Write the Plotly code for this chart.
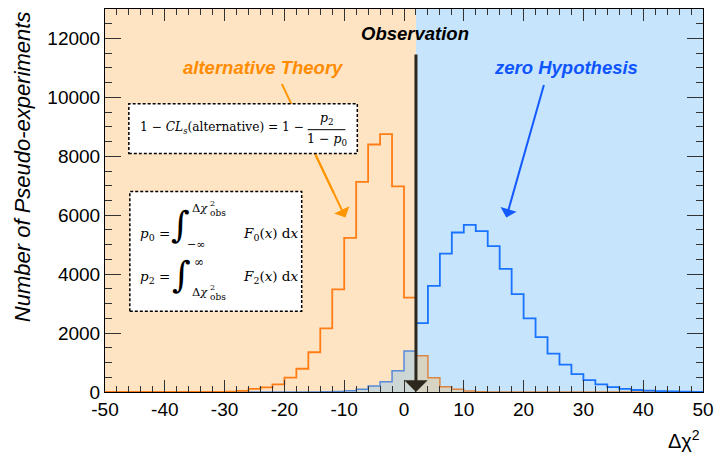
import plotly.graph_objects as go

# ---------------- data ----------------
bin_edges = list(range(-50, 52, 2))          # 50 bins of width 2
orange_counts = [0, 0, 0, 0, 0, 0, 0, 0, 0, 0,
                 10, 40, 105, 160, 260, 486, 790, 1350, 2160, 3480,
                 5230, 7130, 8400, 8750, 6980, 3200, 1232, 486, 180, 90,
                 30, 12, 4,
                 0, 0, 0, 0, 0, 0, 0, 0, 0, 0, 0, 0, 0, 0, 0, 0, 0]
blue_counts = [0, 0, 0, 0, 0, 0, 0, 0, 0, 0, 0, 0, 0, 0, 0, 0, 0, 0,
               8, 20, 45, 90, 203, 350, 723, 1390, 2335, 3600,
               4700, 5413, 5672, 5458, 4950, 4181, 3322, 2497, 1860, 1305,
               926, 605, 400, 260, 165, 105, 68, 45, 28, 18, 10, 6]
observation = 2.0

x_ticks = [-50, -40, -30, -20, -10, 0, 10, 20, 30, 40, 50]
x_tick_labels = ["-50", "-40", "-30", "-20", "-10", "0", "10", "20", "30", "40", "50"]
y_ticks = [0, 2000, 4000, 6000, 8000, 10000, 12000]
y_tick_labels = ["0", "2000", "4000", "6000", "8000", "10000", "12000"]

# ---------------- helpers ----------------
W, H = 722, 458
PL, PR, PT, PB = 105, 707, 8, 392   # plot area in pixels


def pp(xp, yp):
    """pixel -> paper coordinates"""
    return (xp - PL) / (PR - PL), (PB - yp) / (PB - PT)


def split(counts, left_side):
    lefts = bin_edges[:-1]
    if left_side:
        idx = [i for i, l in enumerate(lefts) if l < observation]
        xs = [lefts[i] for i in idx] + [observation]
    else:
        idx = [i for i, l in enumerate(lefts) if l >= observation]
        xs = [lefts[i] for i in idx] + [bin_edges[-1]]
    ys = [counts[i] for i in idx]
    ys = ys + [ys[-1]]
    return xs, ys


ORANGE_LINE = "rgb(255,125,20)"
BLUE_LINE = "rgb(25,115,255)"
ORANGE_TXT = "rgb(255,140,0)"
BLUE_TXT = "rgb(15,85,255)"
BG_OR = "rgb(255,228,196)"
BG_BL = "rgb(198,228,252)"

fig = go.Figure()

xb, yb = split(blue_counts, True)
fig.add_trace(go.Scatter(x=xb, y=yb, mode="lines", line=dict(shape="hv", color="rgba(40,110,220,0.75)", width=1.5),
                         fill="tozeroy", fillcolor="rgb(203,214,213)", hoverinfo="skip", showlegend=False))
xo, yo = split(orange_counts, False)
fig.add_trace(go.Scatter(x=xo, y=yo, mode="lines", line=dict(shape="hv", color="rgba(220,120,40,0.85)", width=1.5),
                         fill="tozeroy", fillcolor="rgb(215,212,196)", hoverinfo="skip", showlegend=False))
xo, yo = split(orange_counts, True)
fig.add_trace(go.Scatter(x=xo, y=yo, mode="lines", line=dict(shape="hv", color=ORANGE_LINE, width=1.8),
                         hoverinfo="skip", showlegend=False))
xb, yb = split(blue_counts, False)
fig.add_trace(go.Scatter(x=xb, y=yb, mode="lines", line=dict(shape="hv", color=BLUE_LINE, width=1.8),
                         hoverinfo="skip", showlegend=False))

shapes = []
# background regions
shapes.append(dict(type="rect", xref="x", yref="paper", x0=bin_edges[0], x1=observation, y0=0, y1=1,
                   fillcolor=BG_OR, line=dict(width=0), layer="below"))
shapes.append(dict(type="rect", xref="x", yref="paper", x0=observation, x1=bin_edges[-1], y0=0, y1=1,
                   fillcolor=BG_BL, line=dict(width=0), layer="below"))
# orange arrow shaft (partly hidden by the box)
a0 = pp(283, 83)
a1 = pp(335, 192)
shapes.append(dict(type="line", xref="paper", yref="paper", x0=a0[0], y0=a0[1], x1=a1[0], y1=a1[1],
                   line=dict(color="rgb(255,150,0)", width=2), layer="above"))
# formula boxes
b1a, b1b = pp(129, 103), pp(359, 153)
shapes.append(dict(type="rect", xref="paper", yref="paper", x0=b1a[0], y0=b1b[1], x1=b1b[0], y1=b1a[1],
                   fillcolor="white", line=dict(color="black", width=1.5, dash="3px,2px"), layer="above"))
b2a, b2b = pp(130, 191), pp(303, 311)
shapes.append(dict(type="rect", xref="paper", yref="paper", x0=b2a[0], y0=b2b[1], x1=b2b[0], y1=b2a[1],
                   fillcolor="white", line=dict(color="black", width=1.5, dash="3px,2px"), layer="above"))
f0, f1 = pp(309, 129), pp(347, 129)
shapes.append(dict(type="line", xref="paper", yref="paper", x0=f0[0], y0=f0[1], x1=f1[0], y1=f1[1],
                   line=dict(color="black", width=1), layer="above"))

ann = []
SANS = "Liberation Sans, Arial, Helvetica, sans-serif"
SERIF = "DejaVu Serif, Liberation Serif, serif"


def txt(text, xp, yp, size, color="black", family=SANS, xanchor="center", **kw):
    x, y = pp(xp, yp)
    d = dict(text=text, x=x, y=y, xref="paper", yref="paper", showarrow=False,
             font=dict(size=size, color=color, family=family), xanchor=xanchor, yanchor="middle")
    d.update(kw)
    ann.append(d)


txt("<b><i>Observation</i></b>", 417, 33, 18.5)
txt("<b><i>alternative Theory</i></b>", 265, 67, 18.5, ORANGE_TXT)
txt("<b><i>zero Hypothesis</i></b>", 569, 67, 18.5, BLUE_TXT)

# observation line with arrow head
ann.append(dict(x=observation, y=0, xref="x", yref="y", ax=0, ay=-(PB - 53), text="", showarrow=True,
                arrowhead=1, arrowsize=1.3, arrowwidth=3, arrowcolor="rgb(45,40,30)", standoff=0))
# orange arrow head part
tip = pp(347, 217)
ann.append(dict(x=tip[0], y=tip[1], xref="paper", yref="paper", ax=-30, ay=-63, text="", showarrow=True,
                arrowhead=1, arrowsize=1.4, arrowwidth=2, arrowcolor="rgb(255,150,0)", standoff=0))
# blue arrow
tip = pp(509, 217)
ann.append(dict(x=tip[0], y=tip[1], xref="paper", yref="paper", ax=38, ay=-134, text="", showarrow=True,
                arrowhead=1, arrowsize=1.4, arrowwidth=2, arrowcolor="rgb(20,90,255)", standoff=0))

# box 1 formula
txt("1 − <i>CL</i><sub><i>s</i></sub>(alternative) = 1 −", 138, 127, 12.2, family=SERIF, xanchor="left")
txt("<i>p</i><sub>2</sub>", 328, 118, 12.5, family=SERIF)
txt("1 − <i>p</i><sub>0</sub>", 328, 139, 12.5, family=SERIF)

# box 2 formulas
txt("<i>p</i><sub>0</sub> =", 138, 234, 13.5, family=SERIF, xanchor="left")
txt("∫", 181, 224, 36, family=SERIF)
txt("Δ<i>χ</i>", 191, 208, 11.5, family=SERIF, xanchor="left")
txt("2", 209, 203, 8, family=SERIF, xanchor="left")
txt("obs", 209, 213, 9, family=SERIF, xanchor="left")
txt("−∞", 197, 244, 11, family=SERIF)
txt("<i>F</i><sub>0</sub>(<i>x</i>) d<i>x</i>", 242, 234, 13.5, family=SERIF, xanchor="left")

txt("<i>p</i><sub>2</sub> =", 138, 277, 13.5, family=SERIF, xanchor="left")
txt("∫", 182, 274, 36, family=SERIF)
txt("∞", 200, 262, 12, family=SERIF)
txt("Δ<i>χ</i>", 191, 292, 11.5, family=SERIF, xanchor="left")
txt("2", 209, 287, 8, family=SERIF, xanchor="left")
txt("obs", 209, 297, 9, family=SERIF, xanchor="left")
txt("<i>F</i><sub>2</sub>(<i>x</i>) d<i>x</i>", 242, 277, 13.5, family=SERIF, xanchor="left")

# axis titles
txt("<i>Number of Pseudo-experiments</i>", 22, 166, 22, textangle=-90)
txt("Δχ<sup>2</sup>", 688, 440, 20)

fig.update_layout(
    width=W, height=H,
    margin=dict(l=PL, r=W - PR, t=PT, b=H - PB),
    paper_bgcolor="white", plot_bgcolor="white",
    shapes=shapes, annotations=ann, showlegend=False,
    font=dict(family=SANS, color="black"),
)
fig.update_xaxes(range=[bin_edges[0], bin_edges[-1]], tickmode="array", tickvals=x_ticks, ticktext=x_tick_labels,
                 ticks="inside", ticklen=12, tickwidth=1, tickcolor="#333",
                 minor=dict(ticks="inside", ticklen=6, tickmode="linear", tick0=0, dtick=2, tickcolor="#333", tickwidth=1),
                 showline=True, linecolor="black", linewidth=1, mirror="allticks",
                 showgrid=False, zeroline=False, tickfont=dict(size=19, family=SANS, color="black"))
fig.update_yaxes(range=[0, 13000], tickmode="array", tickvals=y_ticks, ticktext=y_tick_labels,
                 ticks="inside", ticklen=16, tickwidth=1, tickcolor="#333",
                 minor=dict(ticks="inside", ticklen=7, tickmode="linear", tick0=0, dtick=500, tickcolor="#333", tickwidth=1),
                 showline=True, linecolor="black", linewidth=1, mirror="allticks",
                 showgrid=False, zeroline=False, tickfont=dict(size=19, family=SANS, color="black"))

fig.write_html("out.html")
